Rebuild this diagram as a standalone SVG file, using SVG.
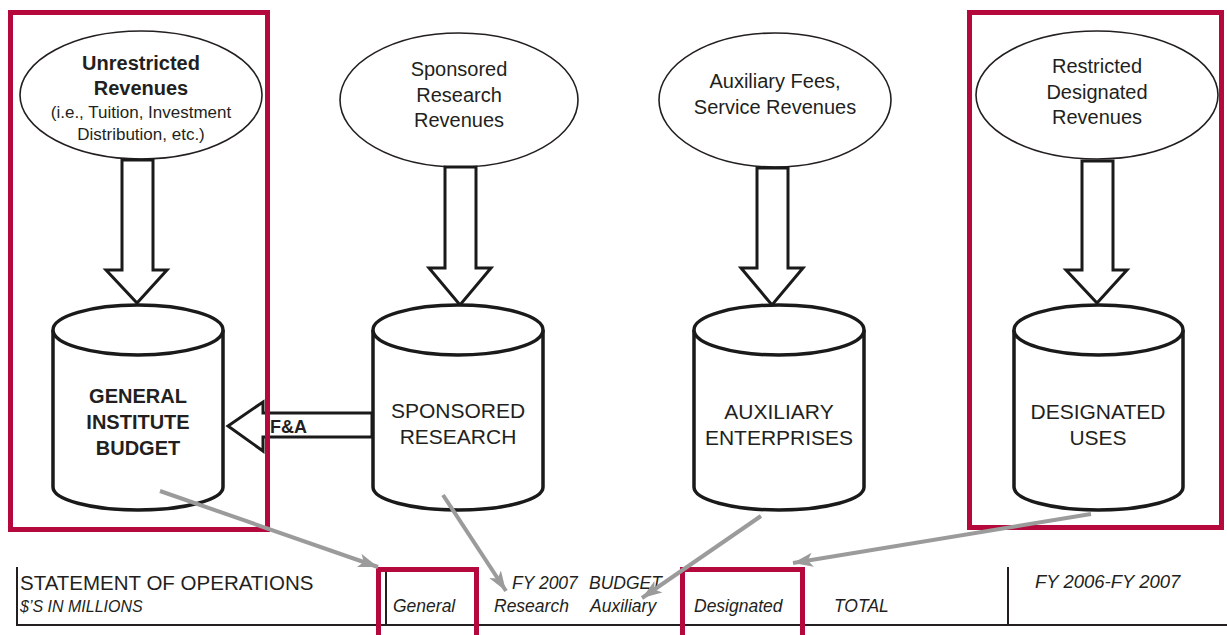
<svg xmlns="http://www.w3.org/2000/svg" width="1227" height="635" viewBox="0 0 1227 635">
<style>
.t{font-family:"Liberation Sans",Arial,Helvetica,sans-serif;fill:#231f20;text-anchor:middle}
.e{font-size:20px}
.b{font-weight:bold}
.s{font-size:17px}
.c{font-size:21px}
.cb{font-size:20px;font-weight:bold}
.h{font-family:"Liberation Sans",Arial,Helvetica,sans-serif;fill:#231f20}
.i{font-style:italic;font-size:17.5px}
.oval{fill:#fff;stroke:#231f20;stroke-width:1.6}
.cyl{fill:#fff;stroke:#1a1a1a;stroke-width:3.5;stroke-linejoin:round}
.blk{fill:#fff;stroke:#1a1a1a;stroke-width:3;stroke-linejoin:miter}
.red{fill:none;stroke:#b5083c;stroke-width:5}
.gray{fill:none;stroke:#9b9b9b;stroke-width:4;marker-end:url(#ga)}
.rule{stroke:#231f20;stroke-width:2}
</style>
<defs>
<marker id="ga" markerUnits="userSpaceOnUse" markerWidth="22" markerHeight="16" refX="20" refY="8" orient="auto">
<path d="M0,1 L20,8 L0,15 L5,8 Z" fill="#9b9b9b"/>
</marker>
</defs>
<rect width="1227" height="635" fill="#fff"/>

<g id="unrestricted-revenues">
<ellipse class="oval" cx="141" cy="95" rx="121" ry="64"/>
<text class="t e b" x="141" y="70">Unrestricted</text>
<text class="t e b" x="141" y="95">Revenues</text>
<text class="t s" x="141" y="118">(i.e., Tuition, Investment</text>
<text class="t s" x="141" y="140">Distribution, etc.)</text>
</g>
<g id="sponsored-research-revenues">
<ellipse class="oval" cx="459" cy="100" rx="119" ry="67"/>
<text class="t e" x="459" y="76">Sponsored</text>
<text class="t e" x="459" y="102">Research</text>
<text class="t e" x="459" y="127">Revenues</text>
</g>
<g id="auxiliary-fees">
<ellipse class="oval" cx="775" cy="100" rx="116" ry="67"/>
<text class="t e" x="775" y="88">Auxiliary Fees,</text>
<text class="t e" x="775" y="114">Service Revenues</text>
</g>
<g id="restricted-designated-revenues">
<ellipse class="oval" cx="1097" cy="95" rx="121" ry="64"/>
<text class="t e" x="1097" y="73">Restricted</text>
<text class="t e" x="1097" y="99">Designated</text>
<text class="t e" x="1097" y="124">Revenues</text>
</g>

<g id="flow-arrows">
<polygon class="blk" points="122,160 153,160 153,270 167,270 137,303 106,270 122,270"/>
<polygon class="blk" points="445,167 476,167 476,268 491,268 460,305 429,268 445,268"/>
<polygon class="blk" points="757,168 788,168 788,268 803,268 772,305 741,268 757,268"/>
<polygon class="blk" points="1082,161 1113,161 1113,270 1127,270 1097,303 1066,270 1082,270"/>
</g>

<g id="general-institute-budget">
<path class="cyl" d="M53,330 A85,25 0 0 1 223,330 L223,487 A85,23 0 0 1 53,487 Z"/>
<path class="cyl" d="M53,330 A85,25 0 0 0 223,330"/>
<text class="t cb" x="138" y="403">GENERAL</text>
<text class="t cb" x="138" y="429">INSTITUTE</text>
<text class="t cb" x="138" y="455">BUDGET</text>
</g>
<g id="sponsored-research">
<path class="cyl" d="M373,330 A85,25 0 0 1 543,330 L543,487 A85,23 0 0 1 373,487 Z"/>
<path class="cyl" d="M373,330 A85,25 0 0 0 543,330"/>
<text class="t c" x="458" y="418">SPONSORED</text>
<text class="t c" x="458" y="444">RESEARCH</text>
</g>
<g id="auxiliary-enterprises">
<path class="cyl" d="M694,330 A85,25 0 0 1 864,330 L864,487 A85,23 0 0 1 694,487 Z"/>
<path class="cyl" d="M694,330 A85,25 0 0 0 864,330"/>
<text class="t c" x="779" y="419">AUXILIARY</text>
<text class="t c" x="779" y="445">ENTERPRISES</text>
</g>
<g id="designated-uses">
<path class="cyl" d="M1014,330 A84.5,25 0 0 1 1183,330 L1183,487 A84.5,23 0 0 1 1014,487 Z"/>
<path class="cyl" d="M1014,330 A84.5,25 0 0 0 1183,330"/>
<text class="t c" x="1098" y="419">DESIGNATED</text>
<text class="t c" x="1098" y="445">USES</text>
</g>

<g id="fa-transfer">
<polygon class="blk" points="372,413 263,413 263,402 228,426 263,451 263,437 372,437"/>
<text class="h b" x="270" y="433" font-size="18">F&amp;A</text>
</g>

<g id="highlight-boxes">
<rect class="red" x="10.5" y="12.5" width="257" height="517"/>
<rect class="red" x="969.5" y="12.5" width="252" height="515"/>
</g>

<g id="statement-header">
<line class="rule" x1="17" y1="567" x2="17" y2="626"/>
<line class="rule" x1="16" y1="625" x2="1227" y2="625"/>
<line class="rule" x1="386" y1="568" x2="386" y2="625"/>
<line class="rule" x1="1008" y1="567" x2="1008" y2="625"/>
<text class="h" x="20" y="590" font-size="20.5">STATEMENT OF OPERATIONS</text>
<text class="h" x="20" y="612" font-size="16" font-style="italic">$’S IN MILLIONS</text>
<text class="h i" x="512" y="589" font-size="18"><tspan>FY 2007</tspan><tspan x="589">BUDGET</tspan></text>
<text class="h i" x="393" y="612">General</text>
<text class="h i" x="494" y="612">Research</text>
<text class="h i" x="590" y="612">Auxiliary</text>
<text class="h i" x="694" y="612">Designated</text>
<text class="h i" x="834" y="612">TOTAL</text>
<text class="h" x="1035" y="588" font-size="18.5" font-style="italic">FY 2006-FY 2007</text>
<rect class="red" x="378.5" y="569.5" width="98" height="68"/>
<rect class="red" x="682.5" y="569.5" width="120" height="68"/>
</g>

<g id="connectors">
<line class="gray" x1="160" y1="491" x2="378" y2="567"/>
<line class="gray" x1="443" y1="495" x2="506" y2="591"/>
<line class="gray" x1="761" y1="516" x2="642" y2="598"/>
<line class="gray" x1="1091" y1="514" x2="793" y2="563"/>
</g>
</svg>
